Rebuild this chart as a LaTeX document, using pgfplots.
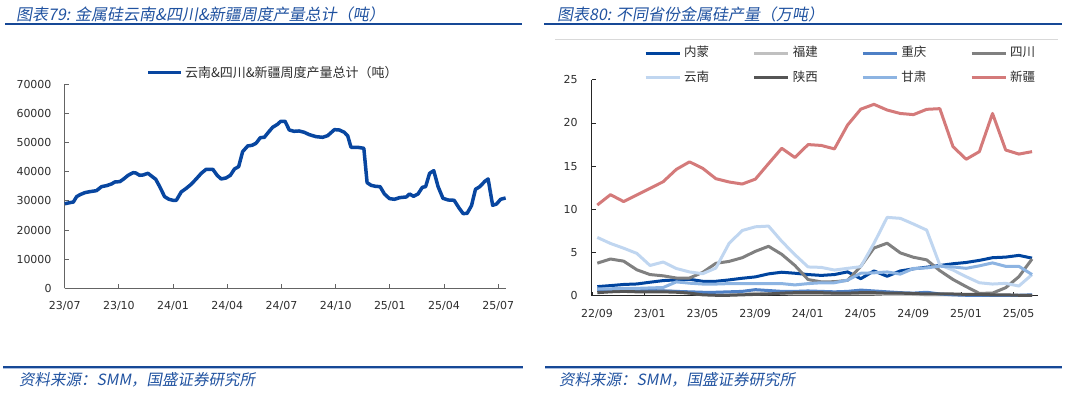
\documentclass[border=0pt]{standalone}
\usepackage{pgfplots}
\usepackage{pgfplotstable}
\pgfplotsset{compat=1.18}
\usepackage{fontspec}
\setmainfont{DejaVu Sans}
\newfontfamily\cjk{Noto Sans CJK SC}
\newfontfamily\cjkit[FakeSlant=0.18]{Noto Sans CJK SC}
\definecolor{titleblue}{RGB}{32,82,160}
\definecolor{lineblue}{RGB}{22,72,150}
\definecolor{lightline}{RGB}{170,190,225}
\definecolor{axgray}{RGB}{100,100,100}
\definecolor{tickc}{RGB}{45,45,45}
\definecolor{cNM}{RGB}{0,68,158}
\definecolor{cFJ}{RGB}{192,192,192}
\definecolor{cCQ}{RGB}{78,128,198}
\definecolor{cSC}{RGB}{128,128,128}
\definecolor{cYN}{RGB}{192,214,240}
\definecolor{cSX}{RGB}{85,85,85}
\definecolor{cGS}{RGB}{141,180,226}
\definecolor{cXJ}{RGB}{212,122,122}
\definecolor{cLeft}{RGB}{8,70,160}

\pgfplotstableread{
m v
0 29000
0.29 29400
0.48 29600
0.66 31450
0.85 32140
1.12 32830
1.40 33170
1.76 33510
2.04 34880
2.32 35230
2.59 35800
2.78 36490
3.05 36600
3.24 37400
3.51 38770
3.79 39690
3.93 39580
4.15 38770
4.34 38890
4.61 39460
4.80 38540
5.04 37400
5.26 34880
5.53 31450
5.77 30540
5.99 30200
6.18 30200
6.45 33060
6.73 34310
7.00 35690
7.28 37520
7.56 39460
7.83 40830
8.20 40830
8.44 38770
8.66 37520
8.93 37860
9.17 38770
9.40 40950
9.63 41750
9.85 46890
10.13 48840
10.37 49070
10.59 49750
10.83 51700
11.05 51810
11.29 53640
11.51 55240
11.78 56270
11.96 57300
12.20 57300
12.43 54330
12.70 53870
12.98 53990
13.26 53530
13.54 52730
13.91 52040
14.28 51810
14.56 52390
14.93 54440
15.20 54330
15.48 53530
15.67 52270
15.85 48380
16.22 48380
16.56 48040
16.74 36260
16.96 35340
17.20 35000
17.46 34880
17.70 32370
17.98 30770
18.26 30540
18.54 31110
18.91 31340
19.09 32370
19.31 31570
19.56 32370
19.80 34660
19.98 34880
20.20 39460
20.43 40370
20.67 34880
20.94 30880
21.22 30310
21.56 30200
21.83 27560
22.06 25620
22.28 25730
22.52 28370
22.74 33970
22.98 34880
23.26 36720
23.44 37520
23.69 28480
23.91 28940
24.13 30540
24.41 31000
}\lefttable

\pgfplotstableread{
i NM FJ CQ SC YN SX GS XJ
0 1.05 0.70 0.70 3.77 6.75 0.35 0.80 10.5
1 1.17 0.70 0.65 4.25 6.05 0.45 0.80 11.7
2 1.30 0.70 0.60 4.00 5.50 0.50 0.85 10.9
3 1.36 0.70 0.60 3.00 4.90 0.45 0.85 11.66
4 1.56 0.65 0.60 2.45 3.50 0.45 0.90 12.43
5 1.75 0.60 0.55 2.30 3.90 0.45 0.95 13.2
6 1.83 0.50 0.50 2.05 3.15 0.40 1.60 14.63
7 1.90 0.30 0.45 2.05 2.75 0.30 1.45 15.5
8 1.67 0.15 0.40 2.70 2.55 0.10 1.35 14.75
9 1.67 0.10 0.40 3.75 3.20 0.05 1.35 13.55
10 1.83 0.10 0.45 3.97 6.05 0.05 1.40 13.17
11 2.02 0.15 0.50 4.40 7.55 0.10 1.40 12.93
12 2.18 0.30 0.70 5.14 7.98 0.15 1.40 13.5
13 2.53 0.30 0.60 5.72 8.06 0.20 1.40 15.3
14 2.72 0.25 0.50 4.79 6.30 0.30 1.40 17.07
15 2.60 0.20 0.50 3.50 4.75 0.35 1.25 16.0
16 2.45 0.20 0.55 1.87 3.33 0.35 1.40 17.5
17 2.35 0.20 0.50 1.60 3.28 0.35 1.50 17.4
18 2.45 0.20 0.45 1.62 2.97 0.30 1.50 17.0
19 2.76 0.20 0.50 1.78 3.17 0.30 1.80 19.77
20 1.97 0.20 0.65 3.40 3.36 0.35 2.60 21.6
21 2.87 0.20 0.55 5.52 6.06 0.35 2.65 22.16
22 2.25 0.15 0.45 6.08 9.07 0.30 2.75 21.5
23 2.87 0.15 0.35 4.96 8.96 0.30 2.50 21.1
24 3.11 0.15 0.30 4.45 8.30 0.25 3.15 20.97
25 3.30 0.10 0.40 4.15 7.60 0.20 3.22 21.58
26 3.50 0.10 0.20 2.90 3.55 0.20 3.42 21.66
27 3.70 0.10 0.10 1.88 2.97 0.20 3.33 17.26
28 3.85 0.05 0.05 1.05 2.20 0.15 3.17 15.8
29 4.09 0.05 0.05 0.27 1.50 0.15 3.46 16.68
30 4.40 0.05 0.05 0.30 1.35 0.10 3.80 21.1
31 4.47 0.05 0.05 0.93 1.43 0.10 3.40 16.87
32 4.67 0.05 0.05 2.20 1.12 0.05 3.40 16.4
33 4.35 0.05 0.10 4.25 2.45 0.05 2.45 16.68
}\righttable

\pgfplotsset{
  base/.style={
    scale only axis,
    axis lines*=left,
    axis line style={draw=axgray, line width=1pt},
    tick style={draw=axgray, line width=0.8pt},
    tick align=inside,
    major tick length=4pt,
    ticklabel style={font=\fontsize{11}{13}\selectfont, text=tickc},
    /pgf/number format/assume math mode=true,
    /pgf/number format/1000 sep={},
    scaled y ticks=false,
    yticklabel style={anchor=east, inner sep=0pt, xshift=-13pt},
    xticklabel style={anchor=center, inner sep=0pt, yshift=-18pt},
    clip=false,
    legend cell align=left,
  }
}

\begin{document}
\begin{tikzpicture}
\useasboundingbox (0pt,0pt) rectangle (1065pt,392pt);

% titles
\node[anchor=west, text=titleblue, font=\cjkit\fontsize{16}{18}\selectfont, inner sep=0pt] at (16pt,378pt) {图表79: 金属硅云南\&四川\&新疆周度产量总计（吨）};
\node[anchor=west, text=titleblue, font=\cjkit\fontsize{16}{18}\selectfont, inner sep=0pt] at (557pt,378pt) {图表80: 不同省份金属硅产量（万吨）};
\draw[lineblue, line width=2pt] (5pt,368pt) -- (522pt,368pt);
\draw[lineblue, line width=2pt] (544pt,368pt) -- (1062pt,368pt);

% footers
\draw[lineblue, line width=2pt] (3pt,25.5pt) -- (523pt,25.5pt);
\draw[lightline, line width=1pt] (3pt,23.5pt) -- (523pt,23.5pt);
\draw[lineblue, line width=2pt] (545pt,25.5pt) -- (1062pt,25.5pt);
\draw[lightline, line width=1pt] (545pt,23.5pt) -- (1062pt,23.5pt);
\node[anchor=west, text=titleblue, font=\cjkit\fontsize{15.5}{17}\selectfont, inner sep=0pt] at (19pt,12pt) {资料来源：SMM，国盛证券研究所};
\node[anchor=west, text=titleblue, font=\cjkit\fontsize{15.5}{17}\selectfont, inner sep=0pt] at (559pt,12pt) {资料来源：SMM，国盛证券研究所};

% right chart border top
\draw[black!15, line width=0.8pt] (555pt,352.7pt) -- (1058pt,352.7pt);

% LEFT
\begin{axis}[base,
  at={(64.7pt,103.7pt)}, anchor=south west,
  width=441.3pt, height=204pt,
  xmin=0, xmax=24.43, ymin=0, ymax=70000,
  xtick={0,3,...,24},
  xticklabels={23/07,23/10,24/01,24/04,24/07,24/10,25/01,25/04,25/07},
  ytick={0,10000,...,70000},
  legend style={at={(axis description cs:0.185,1.059)}, anchor=west, draw=none, fill=none, inner sep=0pt,
    font=\cjk\fontsize{13}{15}\selectfont, text=tickc,
    nodes={inner sep=1pt},
    /tikz/every odd column/.append style={column sep=1pt}},
  legend image code/.code={\draw[#1, line width=3.5pt] (0pt,0pt) -- (33pt,0pt);},
]
\addplot[cLeft, line width=3.5pt, line join=round] table[x=m, y=v] {\lefttable};
\addlegendentry{云南\&四川\&新疆周度产量总计（吨）}
\end{axis}

% RIGHT
\begin{axis}[base,
  axis line style={draw=black!85, line width=1pt},
  tick style={draw=black!85, line width=0.8pt},
  at={(591.7pt,96.3pt)}, anchor=south west,
  width=446pt, height=215.9pt,
  xmin=-0.425, xmax=33.43, ymin=0, ymax=25,
  xtick={-0.4,3.6,...,31.6},
  xticklabels={22/09,23/01,23/05,23/09,24/01,24/05,24/09,25/01,25/05},
  xticklabel style={xshift=5pt},
  ytick={0,5,...,25},
  yticklabel style={xshift=-1pt},
  legend columns=4,
  legend style={at={(axis description cs:0.117,1.066)}, anchor=west, draw=none, fill=none, inner sep=0pt,
    font=\cjk\fontsize{12.5}{14}\selectfont, text=tickc,
    nodes={inner sep=1pt, text height=9pt, text depth=2pt},
    row sep=11.2pt,
    /tikz/every odd column/.append style={column sep=2pt},
    /tikz/every even column/.append style={column sep=27.7pt}},
  legend image code/.code={\draw[#1, line width=3pt] (0pt,0pt) -- (34pt,0pt);},
]
\addplot[cNM, line width=3pt, line join=round] table[x=i, y=NM] {\righttable};
\addlegendentry{\makebox[40pt][l]{内蒙}}
\addplot[cFJ, line width=3pt, line join=round] table[x=i, y=FJ] {\righttable};
\addlegendentry{\makebox[40pt][l]{福建}}
\addplot[cCQ, line width=3pt, line join=round] table[x=i, y=CQ] {\righttable};
\addlegendentry{\makebox[40pt][l]{重庆}}
\addplot[cSC, line width=3pt, line join=round] table[x=i, y=SC] {\righttable};
\addlegendentry{\makebox[40pt][l]{四川}}
\addplot[cYN, line width=3pt, line join=round] table[x=i, y=YN] {\righttable};
\addlegendentry{\makebox[40pt][l]{云南}}
\addplot[cSX, line width=3pt, line join=round] table[x=i, y=SX] {\righttable};
\addlegendentry{\makebox[40pt][l]{陕西}}
\addplot[cGS, line width=3pt, line join=round] table[x=i, y=GS] {\righttable};
\addlegendentry{\makebox[40pt][l]{甘肃}}
\addplot[cXJ, line width=3pt, line join=round] table[x=i, y=XJ] {\righttable};
\addlegendentry{\makebox[40pt][l]{新疆}}
\end{axis}
\end{tikzpicture}
\end{document}
